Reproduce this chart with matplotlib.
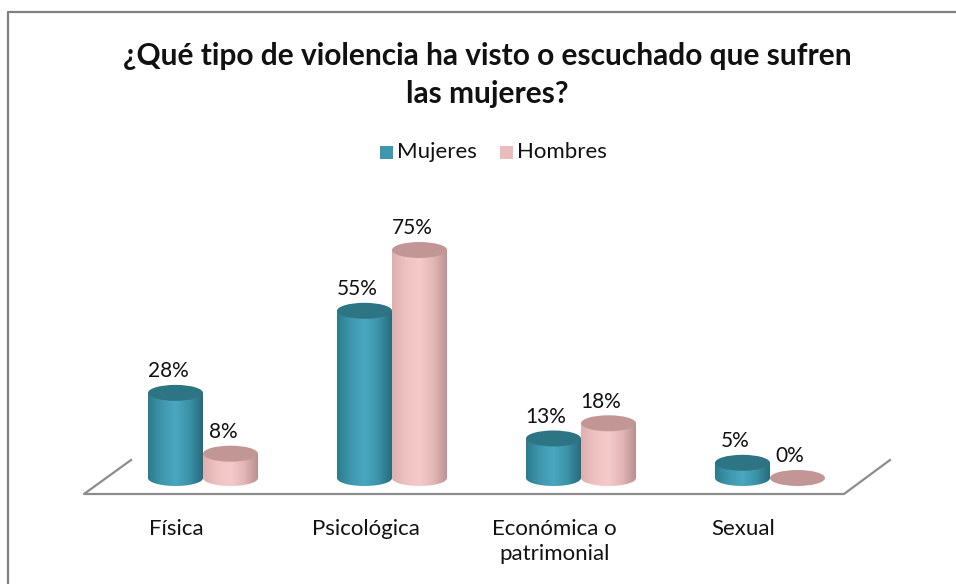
import numpy as np
import matplotlib
matplotlib.use("Agg")
import matplotlib.pyplot as plt
from matplotlib.patches import Ellipse, PathPatch
from matplotlib.path import Path
from matplotlib.colors import LinearSegmentedColormap
from matplotlib.lines import Line2D

plt.rcParams['font.family'] = ['Lato', 'DejaVu Sans']

# datos
categorias = ['Física', 'Psicológica', 'Económica o\npatrimonial', 'Sexual']
mujeres = [28, 55, 13, 5]
hombres = [8, 75, 18, 0]
series = ['Mujeres', 'Hombres']
titulo = '¿Qué tipo de violencia ha visto o escuchado que sufren\nlas mujeres?'

W, H = 956, 584
fig = plt.figure(figsize=(W / 100, H / 100), dpi=100)
fig.patch.set_facecolor('white')

# ejes sobre toda la figura: x = categoría, y = porcentaje
ax = fig.add_axes([0, 0, 1, 1])
px_por_cat = 189.0
px_por_pct = 3.04
x0_px, y0_px = 203.0, 478.0
ax.set_xlim(-x0_px / px_por_cat, (W - x0_px) / px_por_cat)
ax.set_ylim((y0_px - H) / px_por_pct, y0_px / px_por_pct)
ax.axis('off')

ancho = 55 / px_por_cat
alto_elipse = 16 / px_por_pct

cmap_m = LinearSegmentedColormap.from_list('m', ['#2a7b8d', '#3f97ad', '#4aa7c0', '#3c93a8', '#276b7b'])
cmap_h = LinearSegmentedColormap.from_list('h', ['#ddb0b0', '#efc2c2', '#f5caca', '#e3b6b6', '#b88f8f'])
tapa_m = '#2d7585'
tapa_h = '#c39696'


def cilindro(xc, valor, cmap, tapa):
    xa, xb = xc - ancho / 2, xc + ancho / 2
    if valor > 0:
        t = np.linspace(np.pi, 2 * np.pi, 40)
        base_x = xc + ancho / 2 * np.cos(t)
        base_y = 0 + alto_elipse / 2 * np.sin(t)
        verts = [(xa, valor)] + list(zip(base_x, base_y)) + [(xb, valor), (xa, valor)]
        clip = PathPatch(Path(verts), facecolor='none', edgecolor='none')
        ax.add_patch(clip)
        grad = np.linspace(0, 1, 256).reshape(1, -1)
        im = ax.imshow(grad, cmap=cmap, aspect='auto', zorder=2,
                       extent=[xa, xb, -alto_elipse / 2, valor], interpolation='bilinear')
        im.set_clip_path(clip)
    ax.add_patch(Ellipse((xc, valor), ancho, alto_elipse, facecolor=tapa,
                         edgecolor='none', zorder=3))


desp = 27.5 / px_por_cat
for i in range(len(categorias)):
    cilindro(i - desp, mujeres[i], cmap_m, tapa_m)
    cilindro(i + desp, hombres[i], cmap_h, tapa_h)
    ax.text(i - desp - 0.04, mujeres[i] + alto_elipse / 2 + 1.2, f'{mujeres[i]}%',
            ha='center', va='bottom', fontsize=15, color='#111111', zorder=4)
    ax.text(i + desp - 0.04, hombres[i] + alto_elipse / 2 + 1.2, f'{hombres[i]}%',
            ha='center', va='bottom', fontsize=15, color='#111111', zorder=4)
    ax.text(i - 0.14, -13.6, categorias[i], ha='center', va='top', fontsize=16,
            color='#111111', linespacing=1.3)

# piso en perspectiva (coordenadas de figura)
def fx(px):
    return px / W


def fy(py):
    return 1 - py / H


piso_x = [131, 84, 844, 890]
piso_y = [460, 494, 494, 460]
fig.add_artist(Line2D([fx(v) for v in piso_x], [fy(v) for v in piso_y],
                      color='#8c8c8c', lw=1.6, zorder=1))

# borde
fig.add_artist(Line2D([fx(8), fx(8), fx(W)], [fy(H), fy(12), fy(12)], color='#808080', lw=1.6))

# título
fig.text(fx(487), fy(75), titulo, ha='center', va='center', fontsize=21.5, fontweight='bold',
         color='#111111', linespacing=1.4)

# leyenda
colores_ley = ['#3f97ad', '#ebbcbc']
ley_x = [380, 500]
for nombre, c, lx in zip(series, colores_ley, ley_x):
    fig.patches.append(plt.Rectangle((fx(lx), fy(159)), 13 / W, 13 / H, facecolor=c,
                                     edgecolor='none', transform=fig.transFigure, figure=fig))
    fig.text(fx(lx + 17), fy(152), nombre, ha='left', va='center', fontsize=16, color='#111111')

fig.savefig('out.png', dpi=100, facecolor='white')
